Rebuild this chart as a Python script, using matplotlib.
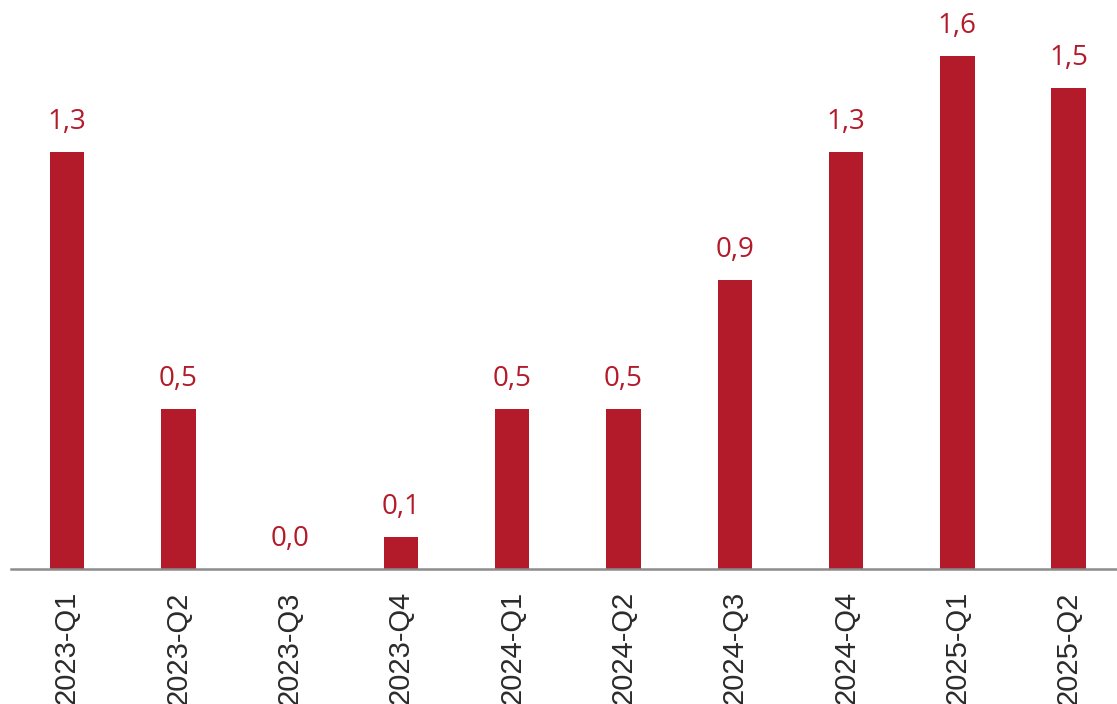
import matplotlib
matplotlib.use("Agg")
import matplotlib.pyplot as plt
import numpy as np

quarters = ["2023-Q1", "2023-Q2", "2023-Q3", "2023-Q4", "2024-Q1",
            "2024-Q2", "2024-Q3", "2024-Q4", "2025-Q1", "2025-Q2"]
values = [1.3, 0.5, 0.0, 0.1, 0.5, 0.5, 0.9, 1.3, 1.6, 1.5]

RED = "#B31B2B"

fig = plt.figure(figsize=(11.17, 7.04), dpi=100)
ax = fig.add_axes([11 / 1117, 135 / 704, 1 - 11 / 1117, 569 / 704])

x = np.arange(len(quarters))
bars = ax.bar(x, values, width=0.31, color=RED)

for bar, val in zip(bars, values):
    ax.text(bar.get_x() + bar.get_width() / 2, bar.get_height() + 0.05,
            f"{val:.1f}".replace(".", ","), ha="center", va="bottom",
            fontsize=20, color=RED, family="Open Sans")

ax.set_xlim(-0.503, 9.434)
ax.set_ylim(0, 1.774)
ax.set_xticks(x)
ax.set_xticklabels(quarters, rotation=90, fontsize=21, color="#2b2b2b",
                   family="Liberation Sans")
ax.tick_params(axis="x", length=0, pad=16)
ax.set_yticks([])

for side in ["top", "right", "left"]:
    ax.spines[side].set_visible(False)
ax.spines["bottom"].set_color("#8c8c8c")
ax.spines["bottom"].set_linewidth(1.8)

fig.savefig("out.png", dpi=100)
